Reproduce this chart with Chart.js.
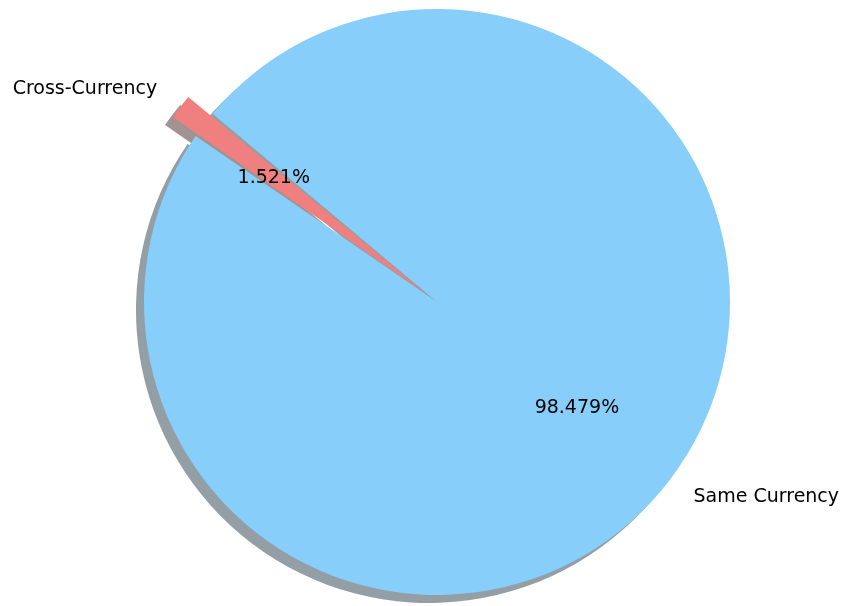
<!DOCTYPE html>
<html>
<head>
<meta charset="utf-8">
<title>Currency pairs</title>
<script src="https://cdn.jsdelivr.net/npm/chart.js@4/dist/chart.umd.min.js"></script>
<style>
  html, body { margin: 0; padding: 0; background: #fff; }
</style>
</head>
<body>
<canvas id="currencyPie" width="847" height="606"></canvas>
<script>
// Slices, listed clockwise from the start angle
const categories = ['Same Currency', 'Cross-Currency'];
const shares = [98.479, 1.521];
const sliceColors = ['#87CEFA', '#F08080'];
const shadowColors = ['rgba(40, 62, 75, 0.5)', 'rgba(72, 38, 38, 0.5)'];

const RADIUS = 293;
const EXPLODE = [0, 0.1];          // fraction of the radius each slice is pulled out
const SHADOW_DX = -8, SHADOW_DY = 8;
const total = shares.reduce((a, b) => a + b, 0);

// Chart.js shifts an offset arc by offset/4 and grows its radius by offset/4*(1 - sin(circ)),
// so pick the offset that moves the outer edge out by EXPLODE * RADIUS
function arcOffset(i) {
  const shift = EXPLODE[i] * RADIUS;
  if (!shift) return 0;
  const circ = shares[i] / total * Math.PI * 2;
  const fix = 1 - Math.sin(Math.min(Math.PI, circ));
  return shift * 4 / (1 + fix);
}

// Drop shadow: each arc drawn again underneath, nudged left and down
const pieShadow = {
  id: 'pieShadow',
  beforeDatasetsDraw(chart) {
    const ctx = chart.ctx;
    chart.getDatasetMeta(0).data.forEach((arc, i) => {
      const opts = arc.options;
      arc.options = Object.assign({}, opts, { backgroundColor: shadowColors[i], borderWidth: 0 });
      ctx.save();
      ctx.translate(SHADOW_DX, SHADOW_DY);
      arc.draw(ctx);
      ctx.restore();
      arc.options = opts;
    });
  }
};

// Category names outside the pie, percentages inside
const pieLabels = {
  id: 'pieLabels',
  afterDatasetsDraw(chart) {
    const ctx = chart.ctx;
    ctx.save();
    ctx.font = '19px "DejaVu Sans", sans-serif';
    ctx.fillStyle = '#000';
    ctx.textBaseline = 'middle';
    chart.getDatasetMeta(0).data.forEach((arc, i) => {
      const { x, y, startAngle, endAngle, outerRadius } =
        arc.getProps(['x', 'y', 'startAngle', 'endAngle', 'outerRadius'], true);
      const mid = (startAngle + endAngle) / 2;
      const dx = Math.cos(mid), dy = Math.sin(mid);
      const shift = EXPLODE[i] * outerRadius;

      const rName = outerRadius * 1.1 + shift;
      ctx.textAlign = dx > 0 ? 'left' : 'right';
      ctx.fillText(categories[i], x + dx * rName, y + dy * rName);

      const rPct = outerRadius * 0.6 + shift;
      ctx.textAlign = 'center';
      ctx.fillText((shares[i] / total * 100).toFixed(3) + '%', x + dx * rPct, y + dy * rPct);
    });
    ctx.restore();
  }
};

const ctx = document.getElementById('currencyPie').getContext('2d');
new Chart(ctx, {
  type: 'pie',
  data: {
    labels: categories,
    datasets: [{
      data: shares,
      backgroundColor: sliceColors,
      borderWidth: 0,
      offset: shares.map((_, i) => arcOffset(i)),
      clip: false,
    }],
  },
  options: {
    responsive: false,
    animation: false,
    events: [],
    rotation: -50,
    radius: RADIUS,
    layout: { padding: { left: 27, right: 0, top: 0, bottom: 2 } },
    plugins: {
      legend: { display: false },
      tooltip: { enabled: false },
    },
  },
  plugins: [pieShadow, pieLabels],
});
</script>
</body>
</html>
